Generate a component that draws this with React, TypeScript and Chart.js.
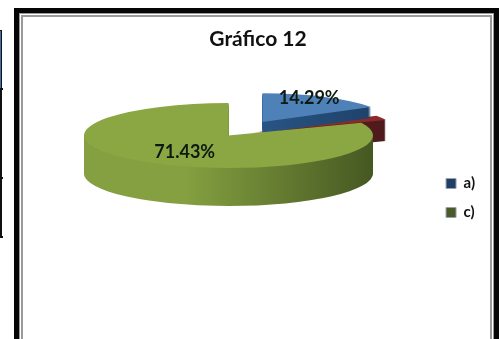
import React, { useEffect, useRef } from "react";
import { Chart, registerables } from "chart.js";

Chart.register(...registerables);

const categories = ["a)", "b)", "c)"];
const percentages = [14.29, 2, 71.43];
const labelledCategories = ["a)", "c)"];
const chartTitle = "Gráfico 12";

// Top-face, side-wall and legend colours per slice.
const topColors = ["#4f81b9", "#8c2a28", "#8ba743"];
const sideColors: [string, string][] = [
  ["#2c5a8c", "#1d3f66"],
  ["#6a2020", "#4d1a1c"],
  ["#84a040", "#465822"],
];
const legendColors = ["#1f3f66", "", "#4a5a2a"];

// Projection of the flat pie onto a tilted plane, in canvas pixels.
const PIE = { cx: 204.5, cy: 119.5, rx: 144.5, ry: 32.5 };
const explode = [0.48, 0.19, 0];
const sliceScale = [0.88, 1, 1];
const depth = [11, 21, 38];
const paintOrder = [1, 0, 2];
const labelRadius = [0.66, 0, 0.55];
const labelLift = [-5, 0, 2];

const projected3D = {
  id: "projected3D",
  beforeDatasetDraw(chart: any) {
    const ctx = chart.ctx;
    const arcs = chart.getDatasetMeta(0).data;
    for (const i of paintOrder) {
      const arc = arcs[i];
      const R = arc.outerRadius;
      const mid = (arc.startAngle + arc.endAngle) / 2;
      const sx = PIE.rx / R;
      const sy = PIE.ry / R;
      const ox = Math.cos(mid) * explode[i] * R * sx;
      const oy = Math.sin(mid) * explode[i] * R * sy;
      const base = arc.options;
      const place = (dy: number) => {
        ctx.translate(PIE.cx + ox, PIE.cy + oy + dy);
        ctx.scale(sx * sliceScale[i], sy * sliceScale[i]);
        ctx.translate(-arc.x, -arc.y);
      };
      for (let k = depth[i]; k >= 1; k--) {
        ctx.save();
        place(k);
        const grad = ctx.createLinearGradient(arc.x - R * 0.3, 0, arc.x + R, 0);
        grad.addColorStop(0, sideColors[i][0]);
        grad.addColorStop(1, sideColors[i][1]);
        arc.options = { ...base, backgroundColor: grad };
        arc.draw(ctx);
        ctx.restore();
      }
      ctx.save();
      place(0);
      arc.options = base;
      arc.draw(ctx);
      ctx.restore();
    }
    return false;
  },
  afterDatasetsDraw(chart: any) {
    const ctx = chart.ctx;
    const arcs = chart.getDatasetMeta(0).data;
    ctx.save();
    ctx.font = "bold 18px Lato, sans-serif";
    ctx.fillStyle = "#0d1a10";
    ctx.textAlign = "center";
    ctx.textBaseline = "middle";
    percentages.forEach((value, i) => {
      if (!labelRadius[i]) return;
      const arc = arcs[i];
      const mid = (arc.startAngle + arc.endAngle) / 2;
      const x = PIE.cx + Math.cos(mid) * (explode[i] + labelRadius[i]) * PIE.rx;
      const y = PIE.cy + Math.sin(mid) * (explode[i] + labelRadius[i]) * PIE.ry + labelLift[i];
      ctx.fillText(value.toFixed(2) + "%", x, y);
    });
    ctx.restore();
  },
};

export default function App() {
  const ref = useRef<HTMLCanvasElement>(null);
  useEffect(() => {
    const chart = new Chart(ref.current!, {
      type: "pie",
      data: {
        labels: categories,
        datasets: [{ data: percentages, backgroundColor: topColors, borderWidth: 0 }],
      },
      plugins: [projected3D],
      options: {
        animation: false,
        responsive: false,
        layout: { padding: { left: 7, right: 7, bottom: 105 } },
        plugins: {
          title: {
            display: true,
            text: chartTitle,
            color: "#111",
            font: { family: "Lato, sans-serif", size: 21, weight: "bold" },
            padding: { top: 11, bottom: 10 },
          },
          tooltip: { enabled: false },
          legend: {
            position: "right",
            align: "end",
            labels: {
              boxWidth: 10,
              boxHeight: 10,
              padding: 14,
              color: "#111",
              font: { family: "Lato, sans-serif", size: 15, weight: "bold" },
              generateLabels: () =>
                labelledCategories.map((text) => ({
                  text,
                  fillStyle: legendColors[categories.indexOf(text)],
                  strokeStyle: "#9aa3ad",
                  lineWidth: 1,
                  fontColor: "#111",
                })),
            },
          },
        },
      },
    });
    return () => chart.destroy();
  }, []);

  return (
    <div style={{ position: "fixed", left: 0, top: 0, width: 499, height: 339, overflow: "hidden", background: "#fff" }}>
      {/* neighbouring table cell edges on the page */}
      <div style={{ position: "absolute", left: 0, top: 30, width: 2, height: 208, background: "#111" }} />
      <div style={{ position: "absolute", left: 0, top: 31, width: 1, height: 57, background: "#3f6fb0" }} />
      <div style={{ position: "absolute", left: 0, top: 88, width: 3, height: 2, background: "#111" }} />
      <div style={{ position: "absolute", left: 0, top: 177, width: 3, height: 2, background: "#111" }} />
      <div style={{ position: "absolute", left: 0, top: 236, width: 3, height: 2, background: "#111" }} />
      {/* double frame around the chart */}
      <div style={{ position: "absolute", left: 14, top: 8, width: 485, height: 345, boxSizing: "border-box", border: "5px solid #050505" }}>
        <div style={{ width: "100%", height: "100%", boxSizing: "border-box", border: "4px solid #9a9a9a", outline: "1px solid #fff", outlineOffset: -2 }} />
      </div>
      <canvas ref={ref} width={468} height={323} style={{ position: "absolute", left: 24, top: 16, display: "block" }} />
    </div>
  );
}
